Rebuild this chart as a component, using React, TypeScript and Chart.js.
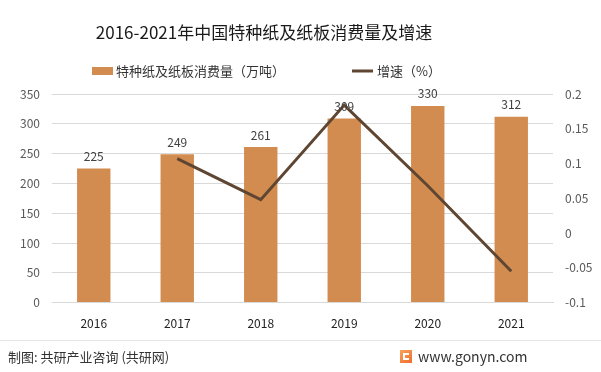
import React, { useEffect, useRef } from "react";
import { Chart, registerables } from "chart.js";

Chart.register(...registerables);

const categories = ["2016", "2017", "2018", "2019", "2020", "2021"];
const consumption = [225, 249, 261, 309, 330, 312];
const growth = [null, 0.107, 0.048, 0.184, 0.068, -0.055];
const leftTicks = [0, 50, 100, 150, 200, 250, 300, 350];
const rightTicks = [-0.1, -0.05, 0, 0.05, 0.1, 0.15, 0.2];

const TITLE = "2016-2021年中国特种纸及纸板消费量及增速";
const BAR_LABEL = "特种纸及纸板消费量（万吨）";
const LINE_LABEL = "增速（%）";
const SOURCE = "制图: 共研产业咨询 (共研网)";
const SITE = "www.gonyn.com";

const FONT = '"Noto Sans CJK SC", "Noto Sans", sans-serif';
const BAR_COLOR = "#D38C4F";
const LINE_COLOR = "#5E4632";

const decorPlugin = {
  id: "decor",
  afterDraw(chart: any) {
    const ctx = chart.ctx;
    ctx.save();
    // title
    ctx.fillStyle = "#1a1a1a";
    ctx.font = `17px ${FONT}`;
    ctx.textAlign = "center";
    ctx.textBaseline = "middle";
    ctx.fillText(TITLE, 264, 33);
    // legend
    ctx.font = `13px ${FONT}`;
    ctx.textAlign = "left";
    ctx.fillStyle = BAR_COLOR;
    ctx.fillRect(92, 67, 21, 8);
    ctx.fillStyle = "#333";
    ctx.fillText(BAR_LABEL, 116, 71);
    ctx.strokeStyle = LINE_COLOR;
    ctx.lineWidth = 3;
    ctx.beginPath();
    ctx.moveTo(352, 71);
    ctx.lineTo(373, 71);
    ctx.stroke();
    ctx.fillStyle = "#333";
    ctx.fillText(LINE_LABEL, 377, 71);
    // bar data labels
    const meta = chart.getDatasetMeta(0);
    ctx.font = `12px ${FONT}`;
    ctx.fillStyle = "#404040";
    ctx.textAlign = "center";
    ctx.textBaseline = "bottom";
    meta.data.forEach((el: any, i: number) => {
      ctx.fillText(String(consumption[i]), el.x, el.y - 6);
    });
    // footer
    ctx.strokeStyle = "#e6e6e6";
    ctx.lineWidth = 1;
    ctx.beginPath();
    ctx.moveTo(0, 340.5);
    ctx.lineTo(601, 340.5);
    ctx.stroke();
    ctx.font = `13px ${FONT}`;
    ctx.fillStyle = "#333";
    ctx.textAlign = "left";
    ctx.textBaseline = "middle";
    ctx.fillText(SOURCE, 8, 357);
    // icon
    const g = ctx.createLinearGradient(400, 350, 412, 364);
    g.addColorStop(0, "#F7A35C");
    g.addColorStop(1, "#F06A2A");
    ctx.fillStyle = g;
    ctx.fillRect(400, 350, 12, 13);
    ctx.fillStyle = "#fff";
    ctx.fillRect(403, 353, 6, 2);
    ctx.fillRect(403, 353, 2, 7);
    ctx.fillRect(403, 358, 6, 2);
    ctx.fillStyle = "#333";
    ctx.font = `14px ${FONT}`;
    ctx.fillText(SITE, 418, 357);
    ctx.restore();
  },
};

export default function App() {
  const ref = useRef<HTMLCanvasElement>(null);
  useEffect(() => {
    document.body.style.margin = "0";
    const chart = new Chart(ref.current!, {
      type: "bar",
      data: {
        labels: categories,
        datasets: [
          {
            type: "bar",
            label: BAR_LABEL,
            data: consumption,
            backgroundColor: BAR_COLOR,
            yAxisID: "y",
            barPercentage: 0.4,
            categoryPercentage: 1,
            order: 2,
          },
          {
            type: "line",
            label: LINE_LABEL,
            data: growth as any,
            borderColor: LINE_COLOR,
            backgroundColor: LINE_COLOR,
            borderWidth: 3,
            pointRadius: 0,
            tension: 0,
            yAxisID: "y1",
            order: 1,
          },
        ],
      },
      options: {
        responsive: false,
        animation: false,
        layout: { padding: { top: 94, bottom: 35, left: 0, right: 0 } },
        plugins: {
          legend: { display: false },
          title: { display: false },
          tooltip: { enabled: false },
        },
        scales: {
          x: {
            grid: { display: false },
            border: { display: true, color: "#d9d9d9" },
            ticks: { color: "#222", font: { size: 12, family: FONT }, padding: 6 },
          },
          y: {
            position: "left",
            min: 0,
            max: 350,
            afterBuildTicks: (s: any) => {
              s.ticks = leftTicks.map((v) => ({ value: v }));
            },
            afterFit: (s: any) => {
              s.width = 52;
            },
            grid: { color: "#d9d9d9", drawTicks: false },
            border: { display: false },
            ticks: { color: "#595959", font: { size: 12, family: FONT }, padding: 12 },
          },
          y1: {
            position: "right",
            min: -0.1,
            max: 0.2,
            afterBuildTicks: (s: any) => {
              s.ticks = rightTicks.map((v) => ({ value: v }));
            },
            afterFit: (s: any) => {
              s.width = 48;
            },
            grid: { display: false, drawTicks: false },
            border: { display: false },
            ticks: {
              color: "#595959",
              font: { size: 12, family: FONT },
              padding: 12,
              callback: (v: any) => String(Math.round(Number(v) * 100) / 100),
            },
          },
        },
      },
      plugins: [decorPlugin],
    });
    return () => chart.destroy();
  }, []);
  return (
    <div style={{ position: "absolute", left: 0, top: 0, width: 601, height: 372, background: "#fff" }}>
      <canvas ref={ref} width={601} height={372} style={{ width: 601, height: 372 }} />
    </div>
  );
}
